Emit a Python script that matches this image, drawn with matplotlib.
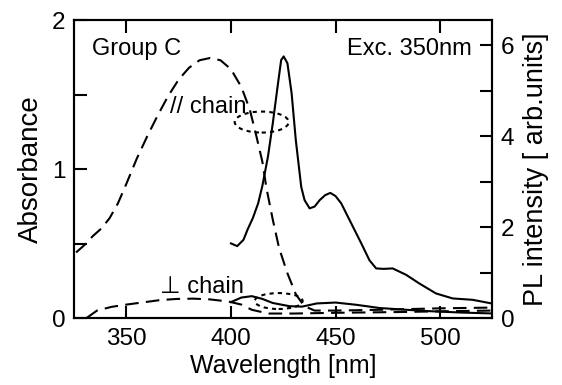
import numpy as np
import matplotlib
matplotlib.use("Agg")
import matplotlib.pyplot as plt
from matplotlib.patches import Ellipse

plt.rcParams['font.family'] = ['Liberation Sans', 'DejaVu Sans']

# absorbance, // chain (long dashes)
abs_par_nm = [326, 330, 334, 338, 342, 346, 350, 355, 360, 365, 370, 375, 380, 385,
              390, 395, 400, 405, 409, 412, 415, 417, 420, 423, 427, 431, 435, 440,
              450, 470, 500, 525]
abs_par = [0.44, 0.49, 0.55, 0.60, 0.67, 0.77, 0.90, 1.07, 1.22, 1.36, 1.49, 1.60, 1.68, 1.73,
           1.745, 1.73, 1.67, 1.55, 1.40, 1.23, 1.05, 0.87, 0.66, 0.47, 0.30, 0.16, 0.08, 0.05,
           0.05, 0.055, 0.065, 0.07]

# absorbance, perpendicular chain
abs_perp_nm = [331, 336, 343, 350, 358, 366, 374, 382, 390, 399, 405, 410, 418, 430,
               450, 480, 500, 525]
abs_perp = [0.0, 0.05, 0.075, 0.09, 0.105, 0.12, 0.128, 0.13, 0.125, 0.11, 0.09, 0.055, 0.03, 0.03,
            0.035, 0.04, 0.045, 0.05]

# PL, // chain (solid)
pl_par_nm = [400, 403, 406, 408, 410.5, 413, 415, 417.7, 420, 422.5, 424, 425.2, 427, 429,
             431, 433.6, 435.2, 437.6, 440, 442.4, 445, 447.5, 450, 452.7, 457.5, 462.3,
             466.2, 469.4, 473, 477.3, 483.7, 490, 498, 506, 515.5, 524.6]
pl_par = [1.64, 1.58, 1.72, 1.95, 2.2, 2.52, 2.9, 3.55, 4.28, 5.16, 5.67, 5.75, 5.6, 4.94,
          3.91, 2.88, 2.59, 2.41, 2.45, 2.59, 2.70, 2.75, 2.68, 2.52, 2.08, 1.64,
          1.27, 1.09, 1.08, 1.09, 0.95, 0.76, 0.54, 0.43, 0.40, 0.32]

# PL, perpendicular chain
pl_perp_nm = [400, 405, 410, 415, 420, 428, 434, 441, 450, 460, 471, 484, 495, 510, 525]
pl_perp = [0.35, 0.45, 0.48, 0.42, 0.33, 0.26, 0.25, 0.32, 0.34, 0.29, 0.22, 0.18, 0.15, 0.12, 0.10]

fig = plt.figure(figsize=(5.62, 3.85), dpi=100)
ax = fig.add_axes([0.1317, 0.174, 0.7446, 0.774])
ax2 = ax.twinx()

dash = (6.5, 3.5)
ax.plot(abs_par_nm, abs_par, color='black', lw=1.5, dashes=dash)
ax.plot(abs_perp_nm, abs_perp, color='black', lw=1.5, dashes=dash)
ax2.plot(pl_par_nm, pl_par, color='black', lw=1.5)
ax2.plot(pl_perp_nm, pl_perp, color='black', lw=1.5)

# dotted ellipses marking the pairs
ax.add_patch(Ellipse((414.7, 1.315), 25.8, 0.141, fill=False, lw=1.5,
                     ls=(0, (2, 2)), color='black'))
ax.add_patch(Ellipse((422.8, 0.114), 22.9, 0.107, fill=False, lw=1.5,
                     ls=(0, (2, 2)), color='black'))

ax.set_xlim(325, 525)
ax.set_ylim(0, 2)
ax2.set_ylim(0, 6.55)

ax.set_xticks([350, 400, 450, 500])
ax.set_yticks([0, 1, 2])
ax.set_yticks([0.5, 1.5], minor=True)
ax2.set_yticks([0, 2, 4, 6])
ax2.set_yticks([1, 3, 5], minor=True)

ax.tick_params(axis='both', which='both', direction='in', length=9, width=1.5,
               labelsize=17.5, top=True, right=False)
ax.tick_params(axis='y', which='major', pad=6)
ax.tick_params(axis='x', which='major', pad=7)
ax2.tick_params(axis='y', which='both', direction='in', length=9, width=1.5,
                labelsize=17.5, pad=6)

for a in (ax, ax2):
    for s in a.spines.values():
        s.set_linewidth(1.5)

ax.set_xlabel('Wavelength [nm]', fontsize=18, labelpad=3)
ax.set_ylabel('Absorbance', fontsize=20, labelpad=6)
ax2.set_ylabel('PL intensity [ arb.units]', fontsize=19.5, labelpad=6)

ax.text(0.043, 0.903, 'Group C', transform=ax.transAxes, fontsize=17, va='center', ha='left')
ax.text(0.951, 0.903, 'Exc. 350nm', transform=ax.transAxes, fontsize=17, va='center', ha='right')
ax.text(370.8, 1.416, '// chain', fontsize=17, va='center', ha='left')
ax.text(366, 0.208, '\u22a5 chain', fontsize=17, va='center', ha='left')

fig.savefig('out.png', dpi=100)
